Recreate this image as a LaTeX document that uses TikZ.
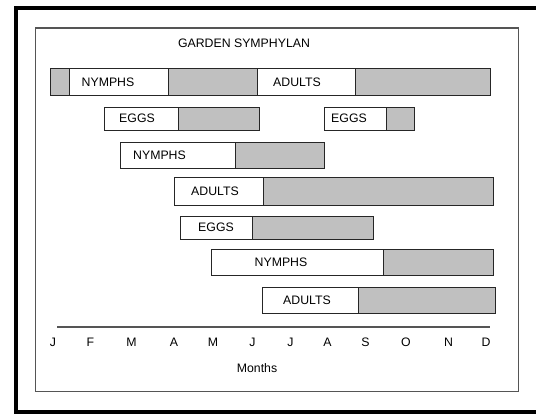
\documentclass[tikz,border=0pt]{standalone}
\usepackage{fontspec}
\setmainfont{Liberation Sans}
\usetikzlibrary{positioning}

\definecolor{barfill}{RGB}{192,192,192}
\definecolor{framegray}{RGB}{85,85,85}

\tikzset{
    stagebox/.style={rectangle, draw=black!85, line width=0.9pt, fill=white, inner sep=0pt, outer sep=0pt, anchor=north west},
    restbox/.style={stagebox, fill=barfill},
    lbl/.style={inner sep=0pt, font=\fontsize{12.3}{14}\selectfont},
}

\begin{document}
\begin{tikzpicture}[x=1pt, y=-1pt]
        \clip (0,0) rectangle (536,413);

        %-----Frames-----
        \draw[line width=4pt] (16,8) rectangle (548,412);
        \draw[framegray, line width=1.3pt] (35.5,28) rectangle (518.5,391.5);

        % Title
        \node[lbl] (title) at (244,43) {GARDEN SYMPHYLAN};

        %-----Row 1-----
        \node[restbox, minimum width=19.4, minimum height=27] (r1a) at (50,68.5) {};
        \node[stagebox, minimum width=98.6, minimum height=27] (r1b) at (r1a.north east) {};
        \node[restbox, minimum width=89.5, minimum height=27] (r1c) at (r1b.north east) {};
        \node[stagebox, minimum width=97.5, minimum height=27] (r1d) at (r1c.north east) {};
        \node[restbox, minimum width=135.5, minimum height=27] (r1e) at (r1d.north east) {};
        \node[lbl] (t1b) at (108,82) {NYMPHS};
        \node[lbl] (t1d) at (297,82) {ADULTS};

        %-----Row 2-----
        \node[stagebox, minimum width=73.5, minimum height=23.5] (r2a) at (104.5,107) {};
        \node[restbox, minimum width=81.5, minimum height=23.5] (r2b) at (r2a.north east) {};
        \node[stagebox, minimum width=61.3, minimum height=23.5] (r2c) at (324.7,107) {};
        \node[restbox, minimum width=28, minimum height=23.5] (r2d) at (r2c.north east) {};
        \node[lbl] (t2a) at (137,118.75) {EGGS};
        \node[lbl] (t2c) at (349,118.75) {EGGS};

        %-----Row 3-----
        \node[stagebox, minimum width=115.6, minimum height=26.5] (r3a) at (120,142) {};
        \node[restbox, minimum width=89.1, minimum height=26.5] (r3b) at (r3a.north east) {};
        \node[lbl] (t3a) at (159.5,155.25) {NYMPHS};

        %-----Row 4-----
        \node[stagebox, minimum width=89.5, minimum height=28] (r4a) at (174,177) {};
        \node[restbox, minimum width=229.5, minimum height=28] (r4b) at (r4a.north east) {};
        \node[lbl] (t4a) at (215,191) {ADULTS};

        %-----Row 5-----
        \node[stagebox, minimum width=72, minimum height=23.5] (r5a) at (180,216) {};
        \node[restbox, minimum width=121, minimum height=23.5] (r5b) at (r5a.north east) {};
        \node[lbl] (t5a) at (216,227.75) {EGGS};

        %-----Row 6-----
        \node[stagebox, minimum width=172, minimum height=26.5] (r6a) at (211,249) {};
        \node[restbox, minimum width=110, minimum height=26.5] (r6b) at (r6a.north east) {};
        \node[lbl] (t6a) at (281,262.25) {NYMPHS};

        %-----Row 7-----
        \node[stagebox, minimum width=96.5, minimum height=26] (r7a) at (262,287) {};
        \node[restbox, minimum width=136.5, minimum height=26] (r7b) at (r7a.north east) {};
        \node[lbl] (t7a) at (307,300) {ADULTS};

        %-----Month axis-----
        \coordinate (axl) at (57,327);
        \coordinate (axr) at (490,327);
        \draw[framegray, line width=1.2pt] (axl) -- (axr);

        \foreach \mx/\mn [count=\i] in {53/J, 90.5/F, 131.5/M, 174/A, 213/M, 252.5/J, 290.5/J, 327.5/A, 365.5/S, 406/O, 448.5/N, 486/D}
            \node[lbl] (m\i) at (\mx,342) {\mn};

        \node[lbl] (months) at (257,368) {Months};

    \end{tikzpicture}
\end{document}
